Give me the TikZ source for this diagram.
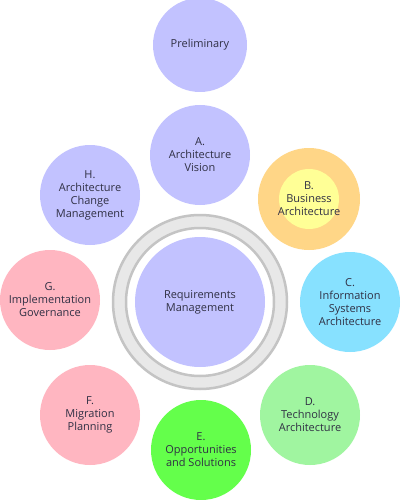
\documentclass[tikz,border=0pt]{standalone}
\usepackage{fontspec}
\setmainfont{Open Sans}
\definecolor{lavender}{RGB}{194,194,255}
\definecolor{peach}{RGB}{255,214,135}
\definecolor{lemon}{RGB}{255,255,150}
\definecolor{skyblue}{RGB}{135,225,255}
\definecolor{mint}{RGB}{160,245,160}
\definecolor{lime}{RGB}{100,255,75}
\definecolor{rose}{RGB}{255,182,193}
\definecolor{ringgray}{RGB}{196,196,196}
\definecolor{ringfill}{RGB}{232,232,232}
\definecolor{labeltext}{RGB}{48,48,68}
\begin{document}
\begin{tikzpicture}[x=1pt,y=-1pt,
  labelfont/.style={font=\fontsize{11}{13}\selectfont, text=labeltext},
  phase/.style={circle, minimum size=100pt, inner sep=0pt, align=center, labelfont},
  ringline/.style={draw=ringgray, line width=2.5pt}]
\useasboundingbox (0,0) rectangle (400,500);
\fill[white] (0,0) rectangle (400,500);

% double ring around the central phase
\coordinate (ringc) at (200,302);
\fill[ringfill, even odd rule] (ringc) circle[radius=87] (ringc) circle[radius=74];
\draw[ringline] (ringc) circle[radius=74];
\draw[ringline] (ringc) circle[radius=87];

\node[phase, fill=lavender, minimum size=94pt] (pre) at (200,45) {Preliminary};
\node[phase, fill=lavender] (a) at (200,155) {A.\\Architecture\\Vision};
\node[phase, fill=peach, minimum size=102pt] (b) at (309,199) {};
\node[circle, fill=lemon, minimum size=60pt, inner sep=0pt] (binner) at (b.center) {};
\node[align=center, labelfont] (blabel) at (b.center) {B.\\Business\\Architecture};
\node[phase, fill=skyblue] (c) at (350,302) {C.\\Information\\Systems\\Architecture};
\node[phase, fill=mint] (d) at (310,415) {D.\\Technology\\Architecture};
\node[phase, fill=lime] (e) at (201,450) {E.\\Opportunities\\and Solutions};
\node[phase, fill=rose] (f) at (90,415) {F.\\Migration\\Planning};
\node[phase, fill=rose] (g) at (50,300) {G.\\Implementation\\Governance};
\node[phase, fill=lavender] (h) at (90,195) {H.\\Architecture\\Change\\Management};
\node[phase, fill=lavender, minimum size=130pt] (req) at (ringc) {Requirements\\Management};
\end{tikzpicture}
\end{document}
